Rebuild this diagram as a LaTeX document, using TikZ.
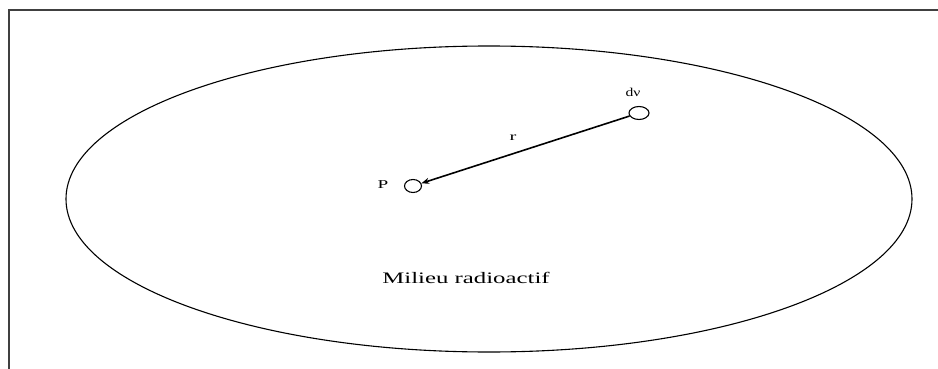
\documentclass[tikz,border=0pt]{standalone}
\usepackage{fontspec}
\setmainfont{Liberation Serif}
\usetikzlibrary{shapes.geometric,arrows.meta}
\tikzset{
  frameline/.style={draw=black!75, line width=2pt},
  pointmark/.style={ellipse, draw, line width=1.1pt, inner sep=0pt},
  lbl/.style={inner sep=0pt, font=\fontsize{12}{14}\selectfont},
  vecarrow/.style={line width=1.6pt, -{Stealth[length=8pt,width=6pt]}}
}
\begin{document}
\begin{tikzpicture}[x=1pt,y=-1pt]
\useasboundingbox (0,0) rectangle (938,369);
\fill[white] (0,0) rectangle (938,369);
% frame (top and left edges visible)
\coordinate (ftr) at (938,10);
\coordinate (ftl) at (9,10);
\coordinate (fbl) at (9,369);
\draw[frameline] (ftr) -- (ftl) -- (fbl);
% radioactive medium
\node[ellipse, draw, line width=1.1pt, minimum width=846pt, minimum height=306pt, inner sep=0pt] (medium) at (489,199) {};
% points
\node[pointmark, minimum width=20pt, minimum height=13pt] (dv) at (639,113) {};
\node[pointmark, minimum width=17pt, minimum height=13pt] (p) at (413,186) {};
% labels
\node[lbl] (dvl) at (633,92) {\scalebox{1.3}[1]{dν}};
\node[lbl] (pl) at (383,185) {\scalebox{1.6}[1]{P}};
\node[lbl] (rl) at (513,138) {\scalebox{1.7}[1]{r}};
\node[inner sep=0pt, font=\fontsize{16}{18}\selectfont] (ml) at (466,278) {\scalebox{1.55}[1]{Milieu radioactif}};
% vector r
\draw[vecarrow] (dv) -- (p);
\end{tikzpicture}
\end{document}
